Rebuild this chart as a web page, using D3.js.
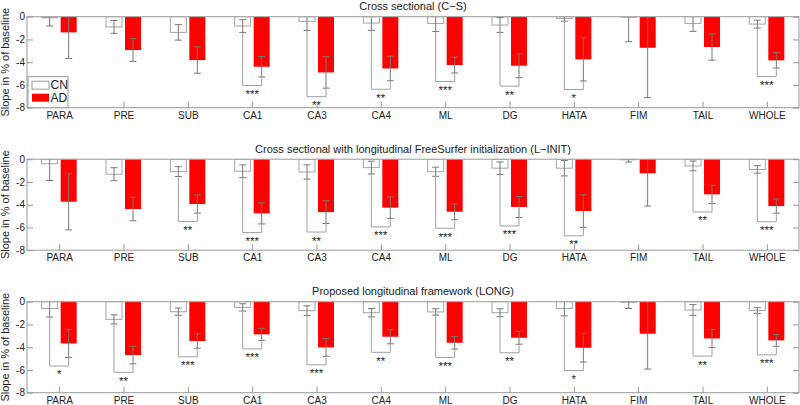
<!DOCTYPE html>
<html>
<head>
<meta charset="utf-8">
<script src="https://cdn.jsdelivr.net/npm/d3@7"></script>
<style>
  body { margin: 0; background: #fff; }
  svg { display: block; font-family: "Liberation Sans", Arial, sans-serif; }
</style>
</head>
<body>
<div id="chart"></div>
<script>
// categories and tick labels
var categories = ["PARA", "PRE", "SUB", "CA1", "CA3", "CA4", "ML", "DG", "HATA", "FIM", "TAIL", "WHOLE"];
var yTicks = [0, -2, -4, -6, -8];
var titles = [
    "Cross sectional (C\u2212S)",
    "Cross sectional with longitudinal FreeSurfer initialization (L\u2212INIT)",
    "Proposed longitudinal framework (LONG)"
];

// Cross sectional (C-S)
var cnCS     = [-0.10, -0.90, -1.38, -0.82, -0.41, -0.56, -0.60, -0.73, -0.15, -0.05, -0.59, -0.65];
var cnErrCS  = [ 0.72,  0.56,  0.68,  0.56,  0.80,  0.64,  0.70,  0.65,  0.25,  2.15,  0.70,  0.35];
var adCS     = [-1.38, -2.93, -3.81, -4.40, -4.90, -4.55, -4.25, -4.31, -3.75, -2.73, -2.67, -3.84];
var adErrCS  = [ 2.29,  1.00,  1.16,  0.90,  1.38,  1.08,  0.70,  1.05,  1.90,  4.37,  1.15,  0.67];
var sigCS    = ["", "", "", "***", "**", "**", "***", "**", "*", "", "", "***"];

// Cross sectional with longitudinal init (L-INIT)
var cnLI     = [-0.40, -1.32, -1.09, -1.06, -1.12, -0.74, -1.10, -0.79, -0.79, -0.05, -0.59, -0.90];
var cnErrLI  = [ 1.47,  0.57,  0.43,  0.56,  0.63,  0.56,  0.40,  0.55,  0.68,  0.20,  0.43,  0.33];
var adLI     = [-3.74, -4.38, -3.94, -4.76, -4.65, -4.26, -4.62, -4.20, -4.56, -1.24, -3.09, -4.12];
var adErrLI  = [ 2.47,  1.03,  0.80,  0.93,  1.00,  0.94,  0.70,  0.92,  1.43,  2.88,  0.80,  0.63];
var sigLI    = ["", "", "**", "***", "**", "***", "***", "***", "**", "", "**", "***"];

// Proposed longitudinal framework (LONG)
var cnLO     = [-0.60, -1.55, -0.88, -0.50, -0.79, -0.97, -0.90, -0.97, -0.59, -0.05, -0.73, -0.78];
var cnErrLO  = [ 0.75,  0.40,  0.32,  0.32,  0.43,  0.37,  0.28,  0.35,  0.65,  0.55,  0.47,  0.25];
var adLO     = [-3.67, -4.69, -3.46, -2.87, -4.02, -3.08, -3.61, -3.17, -4.05, -2.82, -3.23, -3.40];
var adErrLO  = [ 1.23,  0.77,  0.63,  0.53,  0.78,  0.62,  0.55,  0.57,  1.25,  3.10,  0.80,  0.52];
var sigLO    = ["*", "**", "***", "***", "***", "**", "***", "**", "*", "", "**", "***"];

var panels = [
    {title: titles[0], cn: cnCS, cnErr: cnErrCS, ad: adCS, adErr: adErrCS, sig: sigCS},
    {title: titles[1], cn: cnLI, cnErr: cnErrLI, ad: adLI, adErr: adErrLI, sig: sigLI},
    {title: titles[2], cn: cnLO, cnErr: cnErrLO, ad: adLO, adErr: adErrLO, sig: sigLO}
];

var width = 800, height = 405;
var left = 27, right = 799;
var panelTop = 16.7, panelStep = 142.5, panelH = 91;
var barW = 16, barOff = 9.5, capW = 3.5;
var gap = 0.75; // bracket below the lowest whisker, in % units

var svg = d3.select("#chart")
    .append("svg")
    .attr("width", width)
    .attr("height", height);

var x = d3.scaleLinear()
    .domain([0.5, categories.length + 0.5])
    .range([left, right]);

panels.forEach(function(p, pi) {
    var top = panelTop + pi * panelStep;
    var y = d3.scaleLinear().domain([-8, 0]).range([top + panelH, top]);
    var g = svg.append("g");

    var clipId = "clip" + pi;
    g.append("clipPath").attr("id", clipId)
        .append("rect")
        .attr("x", left).attr("y", top)
        .attr("width", right - left).attr("height", panelH);

    var rows = categories.map(function(c, i) {
        return {cat: c, i: i + 1, cn: p.cn[i], cnErr: p.cnErr[i], ad: p.ad[i], adErr: p.adErr[i], sig: p.sig[i]};
    });

    var plot = g.append("g").attr("clip-path", "url(#" + clipId + ")");

    // CN bars (white)
    plot.selectAll(".cn").data(rows).enter().append("rect")
        .attr("x", function(d) { return x(d.i) - barOff - barW / 2; })
        .attr("y", y(0))
        .attr("width", barW)
        .attr("height", function(d) { return y(d.cn) - y(0); })
        .attr("fill", "#fff")
        .attr("stroke", "#a5a5a5")
        .attr("stroke-width", 1);

    // AD bars (red)
    plot.selectAll(".ad").data(rows).enter().append("rect")
        .attr("x", function(d) { return x(d.i) + barOff - barW / 2; })
        .attr("y", y(0))
        .attr("width", barW)
        .attr("height", function(d) { return y(d.ad) - y(0); })
        .attr("fill", "#ff0000");

    // error bars
    function whiskers(key, errKey, off) {
        var wg = plot.selectAll(".w" + key).data(rows).enter().append("g")
            .attr("stroke", "#777")
            .attr("stroke-width", 1);
        wg.append("line")
            .attr("x1", function(d) { return x(d.i) + off; })
            .attr("x2", function(d) { return x(d.i) + off; })
            .attr("y1", function(d) { return y(d[key] + d[errKey]); })
            .attr("y2", function(d) { return y(d[key] - d[errKey]); });
        [1, -1].forEach(function(s) {
            wg.append("line")
                .attr("x1", function(d) { return x(d.i) + off - capW; })
                .attr("x2", function(d) { return x(d.i) + off + capW; })
                .attr("y1", function(d) { return y(d[key] + s * d[errKey]); })
                .attr("y2", function(d) { return y(d[key] + s * d[errKey]); });
        });
    }
    whiskers("cn", "cnErr", -barOff);
    whiskers("ad", "adErr", barOff);

    // significance brackets
    var sigRows = rows.filter(function(d) { return d.sig !== ""; });
    var br = g.selectAll(".br").data(sigRows).enter().append("g");
    br.append("path")
        .attr("fill", "none")
        .attr("stroke", "#a0a0a0")
        .attr("stroke-width", 1)
        .attr("d", function(d) {
            var lo = Math.min(d.cn - d.cnErr, d.ad - d.adErr) - gap;
            var x1 = x(d.i) - barOff, x2 = x(d.i) + barOff;
            return "M" + x1 + "," + y(d.cn - d.cnErr) + "V" + y(lo) + "H" + x2 + "V" + y(d.ad - d.adErr);
        });
    br.append("text")
        .attr("x", function(d) { return x(d.i); })
        .attr("y", function(d) { return y(Math.min(d.cn - d.cnErr, d.ad - d.adErr) - gap) + 12.5; })
        .attr("text-anchor", "middle")
        .attr("font-size", 11.5)
        .attr("fill", "#222")
        .text(function(d) { return d.sig; });

    // axes
    var ax = g.append("g").attr("color", "#999").attr("font-size", 11.5);
    ax.append("g")
        .attr("transform", "translate(" + left + ",0)")
        .call(d3.axisLeft(y).tickValues(yTicks).tickSize(-6).tickPadding(2)
            .tickFormat(function(d) { return String(d); }));
    ax.append("g")
        .attr("transform", "translate(" + right + ",0)")
        .call(d3.axisRight(y).tickValues(yTicks).tickSize(-6).tickFormat(""));
    ax.append("g")
        .attr("transform", "translate(0," + (top + panelH) + ")")
        .call(d3.axisBottom(x).tickValues(d3.range(1, categories.length + 1)).tickSize(-6).tickPadding(4)
            .tickFormat(function(d) { return categories[d - 1]; }));
    ax.selectAll(".domain").remove();
    ax.selectAll("text").attr("fill", "#222").attr("font-family", null);

    g.append("rect")
        .attr("x", left).attr("y", top)
        .attr("width", right - left).attr("height", panelH)
        .attr("fill", "none")
        .attr("stroke", "#999");

    // title
    g.append("text")
        .attr("x", (left + right) / 2)
        .attr("y", top - 6.5)
        .attr("text-anchor", "middle")
        .attr("font-size", 11)
        .attr("fill", "#222")
        .text(p.title);

    // y label
    g.append("text")
        .attr("transform", "translate(9," + (top + panelH / 2) + ") rotate(-90)")
        .attr("text-anchor", "middle")
        .attr("font-size", 11)
        .attr("fill", "#222")
        .text("Slope in % of baseline");

    // legend (first panel only)
    if (pi === 0) {
        var lg = g.append("g").attr("transform", "translate(" + (left + 1) + "," + (top + panelH - 31) + ")");
        lg.append("rect")
            .attr("width", 40).attr("height", 31)
            .attr("fill", "#fff").attr("stroke", "#999");
        var items = [{name: "CN", fill: "#fff"}, {name: "AD", fill: "#ff0000"}];
        items.forEach(function(it, k) {
            lg.append("rect")
                .attr("x", 4).attr("y", 4.5 + k * 12.5)
                .attr("width", 17).attr("height", 8)
                .attr("fill", it.fill)
                .attr("stroke", it.fill === "#fff" ? "#999" : "none");
            lg.append("text")
                .attr("x", 22.5).attr("y", 8.5 + k * 12.5)
                .attr("dy", "0.35em")
                .attr("font-size", 12)
                .attr("fill", "#222")
                .text(it.name);
        });
    }
});
</script>
</body>
</html>
